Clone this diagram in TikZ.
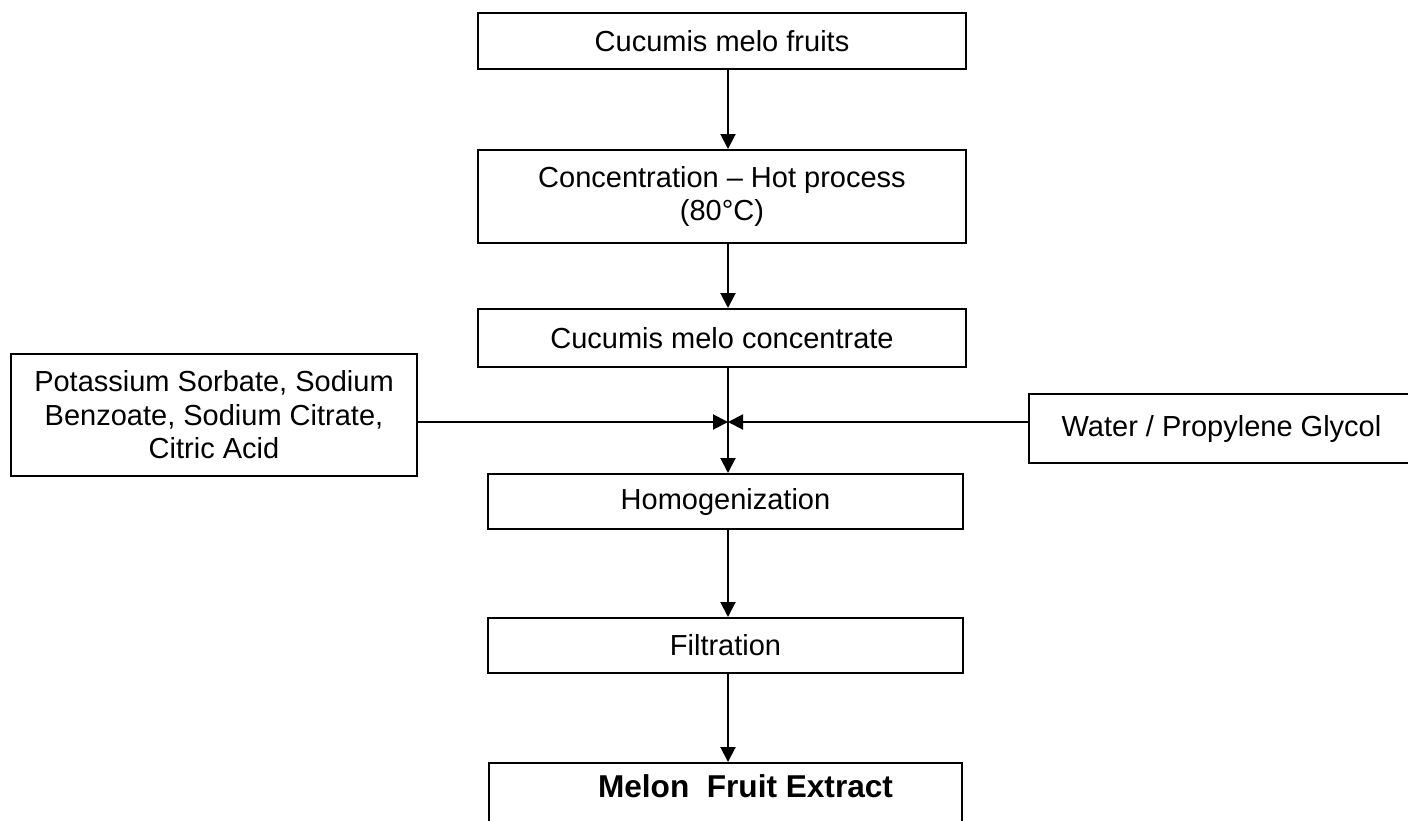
\documentclass[tikz,border=0pt]{standalone}
\usepackage{fontspec}
\setmainfont{Liberation Sans}
\usetikzlibrary{arrows.meta}
\begin{document}
\begin{tikzpicture}[
  x=0.5pt, y=-0.5pt,
  every node/.style={font=\fontsize{14.5}{16.8}\selectfont, align=center, inner sep=0pt},
  stepbox/.style={draw=black, line width=1pt, fill=white},
  flow/.style={line width=1pt, -{Triangle[length=7.5pt,width=7.5pt]}}
]
  \useasboundingbox (0,0) rectangle (1408,820);
  \clip (0,0) rectangle (1408,820);
  \coordinate (col) at (728,0);
  \coordinate (mix) at (728,422);
  \node[stepbox, minimum width=244pt, minimum height=28pt] (fruits) at (722,41) {Cucumis melo fruits};
  \node[stepbox, minimum width=244pt, minimum height=46.5pt] (hot) at (722,196.5) {Concentration -- Hot process\\(80°C)};
  \node[stepbox, minimum width=244pt, minimum height=29pt] (conc) at (722,338) {Cucumis melo concentrate};
  \node[stepbox, minimum width=203pt, minimum height=61pt] (salts) at (214,415) {Potassium Sorbate, Sodium\\Benzoate, Sodium Citrate,\\Citric Acid};
  \node[stepbox, minimum width=192.5pt, minimum height=34.5pt] (water) at (1221.5,428.5) {Water / Propylene Glycol};
  \node[stepbox, minimum width=237.5pt, minimum height=27.5pt] (homog) at (725.5,501.5) {Homogenization};
  \node[stepbox, minimum width=237.5pt, minimum height=27.5pt] (filt) at (725.5,645.5) {Filtration};
  \node[stepbox, anchor=north, minimum width=236.5pt, text height=11pt, text depth=40pt, inner ysep=6pt, font=\fontsize{15.8}{17}\selectfont\bfseries] (extract) at (725.5,762) {\hspace*{20pt}Melon\ \ Fruit Extract};
  \draw[flow] (fruits.south -| col) -- (hot.north -| col);
  \draw[flow] (hot.south -| col) -- (conc.north -| col);
  \draw[flow] (conc.south -| col) -- (homog.north -| col);
  \draw[flow] (salts.east |- mix) -- (mix);
  \draw[flow] (water.west |- mix) -- (mix);
  \draw[flow] (homog.south -| col) -- (filt.north -| col);
  \draw[flow] (filt.south -| col) -- (extract.north -| col);
\end{tikzpicture}
\end{document}
